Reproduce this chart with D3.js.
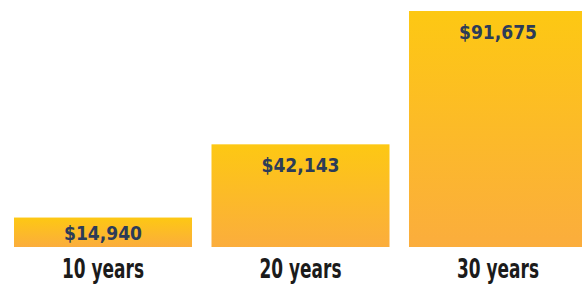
<!DOCTYPE html>
<html><head><meta charset="utf-8">
<script src="https://cdn.jsdelivr.net/npm/d3@7"></script>
<style>html,body{margin:0;padding:0;background:#fff;}svg{display:block;}</style>
</head><body>
<script>
const categories = ["10 years", "20 years", "30 years"];
const values = [14940, 42143, 91675];
const valueLabels = ["$14,940", "$42,143", "$91,675"];

const W = 582, H = 291;
const svg = d3.select("body").append("svg").attr("width", W).attr("height", H);

const defs = svg.append("defs");
const grad = defs.append("linearGradient").attr("id", "barGrad")
  .attr("x1", 0).attr("y1", 0).attr("x2", 0).attr("y2", 1);
grad.append("stop").attr("offset", "0%").attr("stop-color", "#fdc813");
grad.append("stop").attr("offset", "100%").attr("stop-color", "#fbad3d");

const x = d3.scaleBand().domain(categories).range([14, 587]).paddingInner(0.0987).paddingOuter(0);
const baseY = 247;
const y = d3.scaleLinear().domain([4000, 91675]).range([baseY, 11]);

const data = categories.map((c, i) => ({c, v: values[i], l: valueLabels[i]}));

const font = "'DejaVu Sans',sans-serif";

svg.selectAll("rect.bar").data(data).join("rect")
  .attr("class", "bar")
  .attr("x", d => x(d.c))
  .attr("width", x.bandwidth())
  .attr("y", d => y(d.v))
  .attr("height", d => baseY - y(d.v))
  .attr("fill", "url(#barGrad)");

svg.selectAll("text.val").data(data).join("text")
  .attr("class", "val")
  .attr("x", d => x(d.c) + x.bandwidth() / 2 - 39)
  .attr("y", d => {
    const h = baseY - y(d.v);
    return h < 45 ? y(d.v) + h / 2 + 8 : y(d.v) + 28;
  })
  .attr("font-family", font)
  .attr("font-weight", "bold")
  .attr("font-size", 20)
  .attr("textLength", 78)
  .attr("lengthAdjust", "spacingAndGlyphs")
  .attr("fill", "#2c3b58")
  .text(d => d.l);

svg.selectAll("text.cat").data(data).join("text")
  .attr("class", "cat")
  .attr("x", d => x(d.c) + x.bandwidth() / 2 - 41)
  .attr("y", 278)
  .attr("font-family", font)
  .attr("font-weight", "bold")
  .attr("font-size", 26)
  .attr("textLength", 82)
  .attr("lengthAdjust", "spacingAndGlyphs")
  .attr("fill", "#1b1b1b")
  .text(d => d.c);
</script>
</body></html>
